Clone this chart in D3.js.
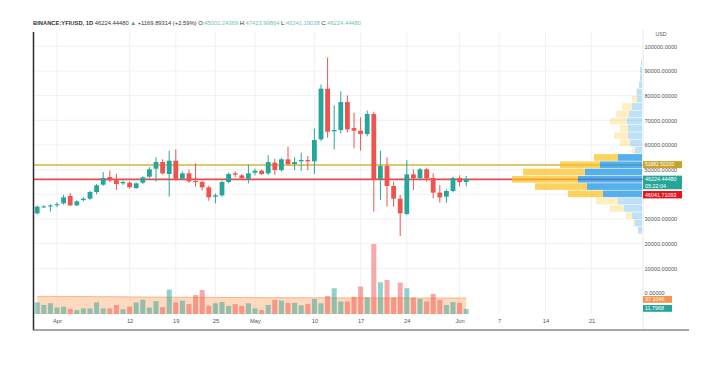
<!DOCTYPE html>
<html><head><meta charset="utf-8">
<script src="https://cdn.jsdelivr.net/npm/d3@7/dist/d3.min.js"></script>
<style>
html,body{margin:0;padding:0;background:#fff;}
svg{display:block;font-family:"Liberation Sans",Arial,sans-serif;}
</style></head><body>
<svg id="c" width="703" height="390"></svg>
<script>
// ---------- DATA ----------
const dates = ["2021-03-29","2021-03-30","2021-03-31","2021-04-01","2021-04-02","2021-04-03","2021-04-04","2021-04-05","2021-04-06","2021-04-07","2021-04-08","2021-04-09","2021-04-10","2021-04-11","2021-04-12","2021-04-13","2021-04-14","2021-04-15","2021-04-16","2021-04-17","2021-04-18","2021-04-19","2021-04-20","2021-04-21","2021-04-22","2021-04-23","2021-04-24","2021-04-25","2021-04-26","2021-04-27","2021-04-28","2021-04-29","2021-04-30","2021-05-01","2021-05-02","2021-05-03","2021-05-04","2021-05-05","2021-05-06","2021-05-07","2021-05-08","2021-05-09","2021-05-10","2021-05-11","2021-05-12","2021-05-13","2021-05-14","2021-05-15","2021-05-16","2021-05-17","2021-05-18","2021-05-19","2021-05-20","2021-05-21","2021-05-22","2021-05-23","2021-05-24","2021-05-25","2021-05-26","2021-05-27","2021-05-28","2021-05-29","2021-05-30","2021-05-31","2021-06-01","2021-06-02"];
const opens  = [32290,34990,35300,35700,36340,39310,35530,37690,38230,40940,43910,47010,46070,44450,44720,42560,44720,47150,50390,53090,48230,53630,46340,48500,45400,44990,42830,39040,39580,44990,48500,47690,46340,48770,49580,48500,52820,49850,54180,52280,53360,53900,53360,62280,82820,65520,66060,77410,66870,65790,64440,72550,46070,51470,43370,38230,32020,48100,46610,50120,46610,40670,39040,41340,46610,45001.24];
const highs  = [35500,35600,36000,36800,39800,40500,37600,38800,41500,44200,49000,49580,48230,45600,45200,44800,47300,51000,54990,54200,57690,58230,49200,50120,52550,45500,43500,40400,45500,48800,49310,48200,52010,50390,50100,55800,54440,54800,59310,54990,56880,55530,66600,84500,95500,76060,81740,80110,73090,71200,74000,73500,57690,54990,45120,39720,53900,50120,50700,50600,48500,43770,42000,47200,47690,47423.99];
const lows   = [31800,34500,33000,34800,35800,35300,35200,37200,37800,40000,43500,45000,41750,43800,42300,42200,44200,46500,45120,48000,39040,45500,45800,44600,43100,41500,37420,36340,39000,44500,47000,46000,44450,47690,47800,47900,47830,49300,51500,49850,49580,49850,48230,61500,63000,58230,64710,65120,58630,57690,63500,33000,37690,34990,34990,23100,31500,41750,46000,45120,38370,36610,36610,40800,43370,43241.19];
const closes = [34990,35100,35500,36000,38770,35530,37150,38230,40940,43640,46610,45660,44180,44990,42830,44450,46880,50120,53090,48500,53630,46340,48500,45260,45260,42830,38770,39580,44990,48230,47960,46610,48500,49580,48230,53090,49850,54180,52280,53090,53900,53360,62010,82820,65390,66060,77410,66330,65790,64440,72550,46070,51470,43370,38230,32290,48100,46610,50120,46610,40670,38770,41340,46610,44990,46224.44];
const volumes = [27,21,25,15,17,12,9,13,13,27,13,13,21,11,17,27,33,15,30,16,57,27,31,23,44,56,19,25,28,19,23,19,25,13,9,21,33,31,26,26,20,23,35,25,42,60,29,29,40,64,39,163,74,79,39,73,60,38,35,29,47,33,21,28,26,11.8];
const volumeMA = [41,41,41,40.9,40.8,40.7,40.6,40.5,40.4,40.3,40.2,40.1,40,39.9,39.8,39.7,39.6,39.5,39.4,39.3,39.2,39.1,39,38.9,38.8,38.8,38.7,38.6,38.5,38.4,38.4,38.3,38.2,38.2,38.1,38,38,37.9,37.9,37.8,37.8,37.7,37.7,37.6,37.6,37.6,37.5,37.5,37.5,37.4,37.4,37.4,37.3,37.3,37.3,37.3,37.2,37.2,37.2,37.2,37.2,37.1,37.1,37.1,37.1,37.1];

// volume profile (visible range)
const profileLow  = [23850,26800,29750,32700,35650,38600,41550,44500,47450,50400,53350,56300,59250,62200,65150,68100,71050,74000,76950,79900,82850,85800,88750,91700];
const profileStep = 2950;
const profileUp   = [4,7,10,18,24,39,55,64,57,42,24,7,12,14,14,15,13,10,5,5,3,2,2,1];
const profileDown = [0,2,6,14,22,35,52,66,62,40,24,3,10,14,8,17,13,10,5,1,0,0,0,0];
const valueArea   = [0,0,0,0,0,1,1,1,1,1,1,0,0,0,0,0,0,0,0,0,0,0,0,0];

const priceTicks  = [0,10000,20000,30000,40000,50000,60000,70000,80000,90000,100000];
const priceLabels = ["0.00000","10000.00000","20000.00000","30000.00000","40000.00000","50000.00000","60000.00000","70000.00000","80000.00000","90000.00000","100000.0000"];
const timeTicks   = ["2021-04-01","2021-04-12","2021-04-19","2021-04-25","2021-05-01","2021-05-10","2021-05-17","2021-05-24","2021-06-01","2021-06-07","2021-06-14","2021-06-21"];
const timeLabels  = ["Apr","12","19","25","May","10","17","24","Jun","7","14","21"];

const hLines = [ {price:51882.502, color:"#d2b53a"}, {price:46041.71, color:"#e84a44"} ];
const lastPrice = 46224.4448;

// ---------- DRAW ----------
const svg = d3.select("#c");
const parse = d3.utcParse("%Y-%m-%d");
const X0 = 33, XR = 643;
const x = d3.scaleUtc().domain([parse("2021-04-01"), parse("2021-06-21")]).range([57, 591.6]);
const yP = d3.scaleLinear().domain([0,100000]).range([293, 46.3]);
const yV = d3.scaleLinear().domain([0,163]).range([314, 244]);
const pw = d3.scaleLinear().domain([0,130]).range([0,130]);

const data = dates.map((d,i)=>({date:parse(d),o:opens[i],h:highs[i],l:lows[i],c:closes[i],v:volumes[i],ma:volumeMA[i]}));
const UP="#26a69a", DN="#ef5350";

// grid
const grid = svg.append("g");
grid.selectAll("line.v").data(timeTicks).join("line")
  .attr("x1",d=>x(parse(d))).attr("x2",d=>x(parse(d)))
  .attr("y1",32).attr("y2",314).attr("stroke","#f0f1f4").attr("stroke-width",1);
grid.selectAll("line.h").data(priceTicks.filter(d=>d>0)).join("line")
  .attr("x1",X0).attr("x2",XR).attr("y1",d=>yP(d)).attr("y2",d=>yP(d))
  .attr("stroke","#f0f1f4").attr("stroke-width",1);

// volume MA area
svg.append("path").datum(data)
  .attr("d", d3.area().x(d=>x(d.date)).y0(yV(0)).y1(d=>yV(d.ma)))
  .attr("fill","#f9b98a").attr("fill-opacity",0.55);
svg.append("path").datum(data)
  .attr("d", d3.line().x(d=>x(d.date)).y(d=>yV(d.ma)))
  .attr("fill","none").attr("stroke","#f6a56e").attr("stroke-width",0.8);

// volume bars
svg.append("g").selectAll("rect").data(data).join("rect")
  .attr("x",d=>x(d.date)-2.5).attr("width",5)
  .attr("y",d=>yV(d.v)).attr("height",d=>yV(0)-yV(d.v))
  .attr("fill",d=>d.c>=d.o?UP:DN).attr("fill-opacity",0.5);

// horizontal lines
svg.append("g").selectAll("line").data(hLines).join("line")
  .attr("x1",X0).attr("x2",XR).attr("y1",d=>yP(d.price)).attr("y2",d=>yP(d.price))
  .attr("stroke",d=>d.color).attr("stroke-width",1.6);

// volume profile
const prof = svg.append("g");
profileLow.forEach((low,i)=>{
  const yt = yP(low+profileStep), yb = yP(low);
  const h = yb-yt-0.6;
  const op = valueArea[i] ? 0.72 : 0.28;
  const bw = pw(profileUp[i]), yw = pw(profileDown[i]);
  prof.append("rect").attr("x",XR-1-bw).attr("y",yt).attr("width",bw).attr("height",h)
    .attr("fill","#1592e6").attr("fill-opacity",op);
  prof.append("rect").attr("x",XR-1-bw-yw).attr("y",yt).attr("width",yw).attr("height",h)
    .attr("fill","#fbc123").attr("fill-opacity",op);
});

// candles
const cg = svg.append("g");
cg.selectAll("line").data(data).join("line")
  .attr("x1",d=>x(d.date)).attr("x2",d=>x(d.date))
  .attr("y1",d=>yP(d.h)).attr("y2",d=>yP(d.l))
  .attr("stroke",d=>d.c>=d.o?UP:DN).attr("stroke-width",1);
cg.selectAll("rect").data(data).join("rect")
  .attr("x",d=>x(d.date)-2.4).attr("width",4.8)
  .attr("y",d=>yP(Math.max(d.o,d.c)))
  .attr("height",d=>Math.max(1,Math.abs(yP(d.o)-yP(d.c))))
  .attr("fill",d=>d.c>=d.o?UP:DN);

// price axis
svg.append("line").attr("x1",XR).attr("x2",XR).attr("y1",30).attr("y2",330).attr("stroke","#e6e8ee");
const ax = svg.append("g").attr("transform",`translate(${XR},0)`)
  .call(d3.axisRight(yP).tickValues(priceTicks).tickFormat((d,i)=>priceLabels[i]).tickSize(0).tickPadding(1.5));
ax.select(".domain").remove();
ax.selectAll("text").attr("font-size",5.6).attr("fill","#555").attr("font-family","Liberation Sans, Arial, sans-serif");
svg.append("text").attr("x",661).attr("y",36).attr("text-anchor","middle").attr("font-size",5.2).attr("fill","#555").text("USD");

// time axis
const tx = svg.append("g").attr("transform","translate(0,318)")
  .call(d3.axisBottom(x).tickValues(timeTicks.map(parse)).tickFormat((d,i)=>timeLabels[i]).tickSize(0).tickPadding(1));
tx.select(".domain").remove();
tx.selectAll("text").attr("font-size",5.8).attr("fill","#555").attr("font-family","Liberation Sans, Arial, sans-serif");

// frame lines
svg.append("line").attr("x1",33.5).attr("x2",33.5).attr("y1",32).attr("y2",330.5).attr("stroke","#2b2b2b").attr("stroke-width",1.5);
svg.append("line").attr("x1",33).attr("x2",689).attr("y1",330).attr("y2",330).attr("stroke","#8a8a8a").attr("stroke-width",1.5);

// price labels
function label(yc, h, fill, lines, w, fs){
  const g = svg.append("g");
  g.append("rect").attr("x",XR).attr("y",yc-h/2).attr("width",w).attr("height",h).attr("fill",fill);
  lines.forEach((t,k)=>{
    g.append("text").attr("x",XR+2).attr("y",yc-h/2+ (h/lines.length)*(k+0.5)).attr("dy","0.35em")
     .attr("font-size",fs).attr("fill","#fff").text(t);
  });
}
label(164.6, 7, "#c9a227", ["51882.50200"], 39, 5.0);
label(yP(lastPrice)+3.5, 13.6, "#26a69a", ["46224.44480","05:22:04"], 39, 5.4);
label(194.7, 7.4, "#e4141b", ["46041.71093"], 39, 5.4);
// volume labels
function vlabel(yc, fill, t){
  svg.append("rect").attr("x",XR).attr("y",yc-3.4).attr("width",29).attr("height",6.8).attr("fill",fill);
  svg.append("text").attr("x",XR+2).attr("y",yc).attr("dy","0.35em").attr("font-size",5.4).attr("fill","#fff").text(t);
}
vlabel(299.4, "#f5934f", "37.1046");
vlabel(308.4, "#26a69a", "11.7968");

// title
const title = svg.append("text").attr("x",33).attr("y",25).attr("font-size",5.8).attr("fill","#333");
title.append("tspan").attr("font-weight","bold").text("BINANCE:YFIUSD, 1D ");
title.append("tspan").text(" 46224.44480 ");
title.append("tspan").attr("fill",UP).text("▲");
title.append("tspan").text(" +1169.89314 (+2.59%) ");
[["O:","45001.24369"],["H:","47423.99864"],["L:","43241.19038"],["C:","46224.44480"]].forEach(([k,v])=>{
  title.append("tspan").text(" "+k);
  title.append("tspan").attr("fill","#6cc3b8").text(v);
});
</script>
</body></html>
